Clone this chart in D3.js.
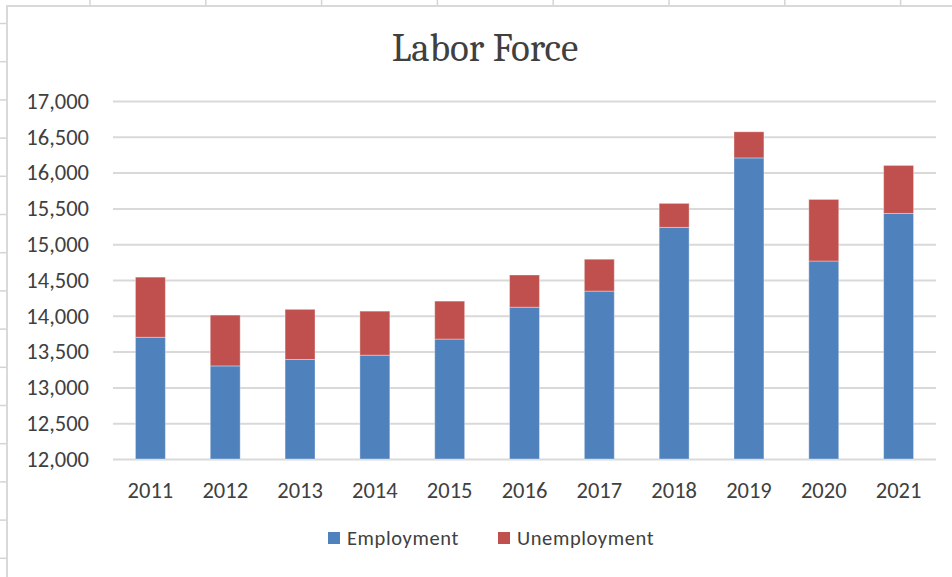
<!DOCTYPE html>
<html>
<head>
<meta charset="utf-8">
<script src="https://cdn.jsdelivr.net/npm/d3@7"></script>
<style>
  body { margin: 0; background: #fff; }
  text { fill: #404040; }
</style>
</head>
<body>
<div id="chart"></div>
<script>
var years = ['2011','2012','2013','2014','2015','2016','2017','2018','2019','2020','2021'];
var employment = [13700, 13300, 13390, 13450, 13675, 14120, 14345, 15235, 16205, 14765, 15430];
var unemployment = [840, 710, 700, 615, 530, 450, 445, 335, 365, 860, 670];
var seriesNames = ['Employment', 'Unemployment'];
var seriesColors = ['#4f81bd', '#c0504d'];
var yTicks = [12000, 12500, 13000, 13500, 14000, 14500, 15000, 15500, 16000, 16500, 17000];

var w = 952, h = 577;
var labelFont = 'Carlito, Lato, "Open Sans", sans-serif';

var svg = d3.select('#chart').append('svg')
    .attr('width', w)
    .attr('height', h);

// spreadsheet cells showing behind the chart object
var sheet = svg.append('g').attr('stroke', '#d4d4d4').attr('stroke-width', 1.5);
for (var c = 0; c < 8; c++) {
    var cx = 90 + c * 115.8;
    sheet.append('line').attr('x1', cx).attr('x2', cx).attr('y1', 0).attr('y2', 5);
}
for (var r = 0; r < 15; r++) {
    var ry = 23.5 + r * 38.2;
    sheet.append('line').attr('x1', 0).attr('x2', 7).attr('y1', ry).attr('y2', ry);
}

// chart object border
svg.append('path')
    .attr('d', 'M7,' + h + 'V6H' + w)
    .attr('fill', 'none')
    .attr('stroke', '#d9d9d9')
    .attr('stroke-width', 2);

var margin = {top: 101, right: 16, bottom: 118, left: 113};

var x = d3.scaleBand()
    .domain(years)
    .range([margin.left, w - margin.right])
    .paddingInner(0.6)
    .paddingOuter(0.3);

var y = d3.scaleLinear()
    .domain([12000, 17000])
    .range([h - margin.bottom, margin.top]);

// gridlines
var grid = svg.append('g')
    .attr('transform', 'translate(' + margin.left + ',0)')
    .call(d3.axisLeft(y).tickValues(yTicks).tickSize(-(w - margin.right - margin.left)).tickFormat(''));
grid.select('.domain').remove();
grid.selectAll('line').attr('stroke', '#d9d9d9').attr('stroke-width', 2);

// y labels
var yAxis = svg.append('g')
    .attr('transform', 'translate(' + margin.left + ',0)')
    .call(d3.axisLeft(y).tickValues(yTicks).tickSize(0).tickPadding(24).tickFormat(d3.format(',')));
yAxis.select('.domain').remove();
yAxis.selectAll('text')
    .style('font-family', labelFont)
    .style('font-size', '22.5px')
    .attr('fill', '#404040');

// stacked bars
var rows = years.map(function(yr, i) {
    return {year: yr, Employment: employment[i], Unemployment: unemployment[i]};
});
var stack = d3.stack().keys(seriesNames);
var layers = stack(rows);

svg.append('g').selectAll('g')
    .data(layers)
    .join('g')
    .attr('fill', function(d, i) { return seriesColors[i]; })
    .selectAll('rect')
    .data(function(d) { return d; })
    .join('rect')
    .attr('x', function(d) { return x(d.data.year); })
    .attr('width', x.bandwidth())
    .attr('y', function(d) { return y(d[1]); })
    .attr('height', function(d) { return y(Math.max(d[0], 12000)) - y(d[1]); })
    .attr('stroke', 'rgba(255,255,255,0.35)')
    .attr('stroke-width', 1);

// x labels
var xAxis = svg.append('g')
    .attr('transform', 'translate(0,' + (h - margin.bottom) + ')')
    .call(d3.axisBottom(x).tickSize(0).tickPadding(23));
xAxis.select('.domain').remove();
xAxis.selectAll('text')
    .style('font-family', labelFont)
    .style('font-size', '22.5px')
    .attr('fill', '#404040');

// title
svg.append('text')
    .attr('x', 485)
    .attr('y', 61)
    .attr('text-anchor', 'middle')
    .style('font-family', 'Cambria, "Liberation Serif", "DejaVu Serif", serif')
    .style('font-size', '39px')
    .text('Labor Force');

// legend
var legendX = [328, 498];
var legend = svg.append('g').selectAll('g')
    .data(seriesNames)
    .join('g')
    .attr('transform', function(d, i) { return 'translate(' + legendX[i] + ',532)'; });
legend.append('rect')
    .attr('width', 12)
    .attr('height', 12)
    .attr('fill', function(d, i) { return seriesColors[i]; });
legend.append('text')
    .attr('x', 19)
    .attr('y', 12.5)
    .style('font-family', labelFont)
    .style('font-size', '20.5px')
    .style('letter-spacing', '0.6px')
    .text(function(d) { return d; });
</script>
</body>
</html>
